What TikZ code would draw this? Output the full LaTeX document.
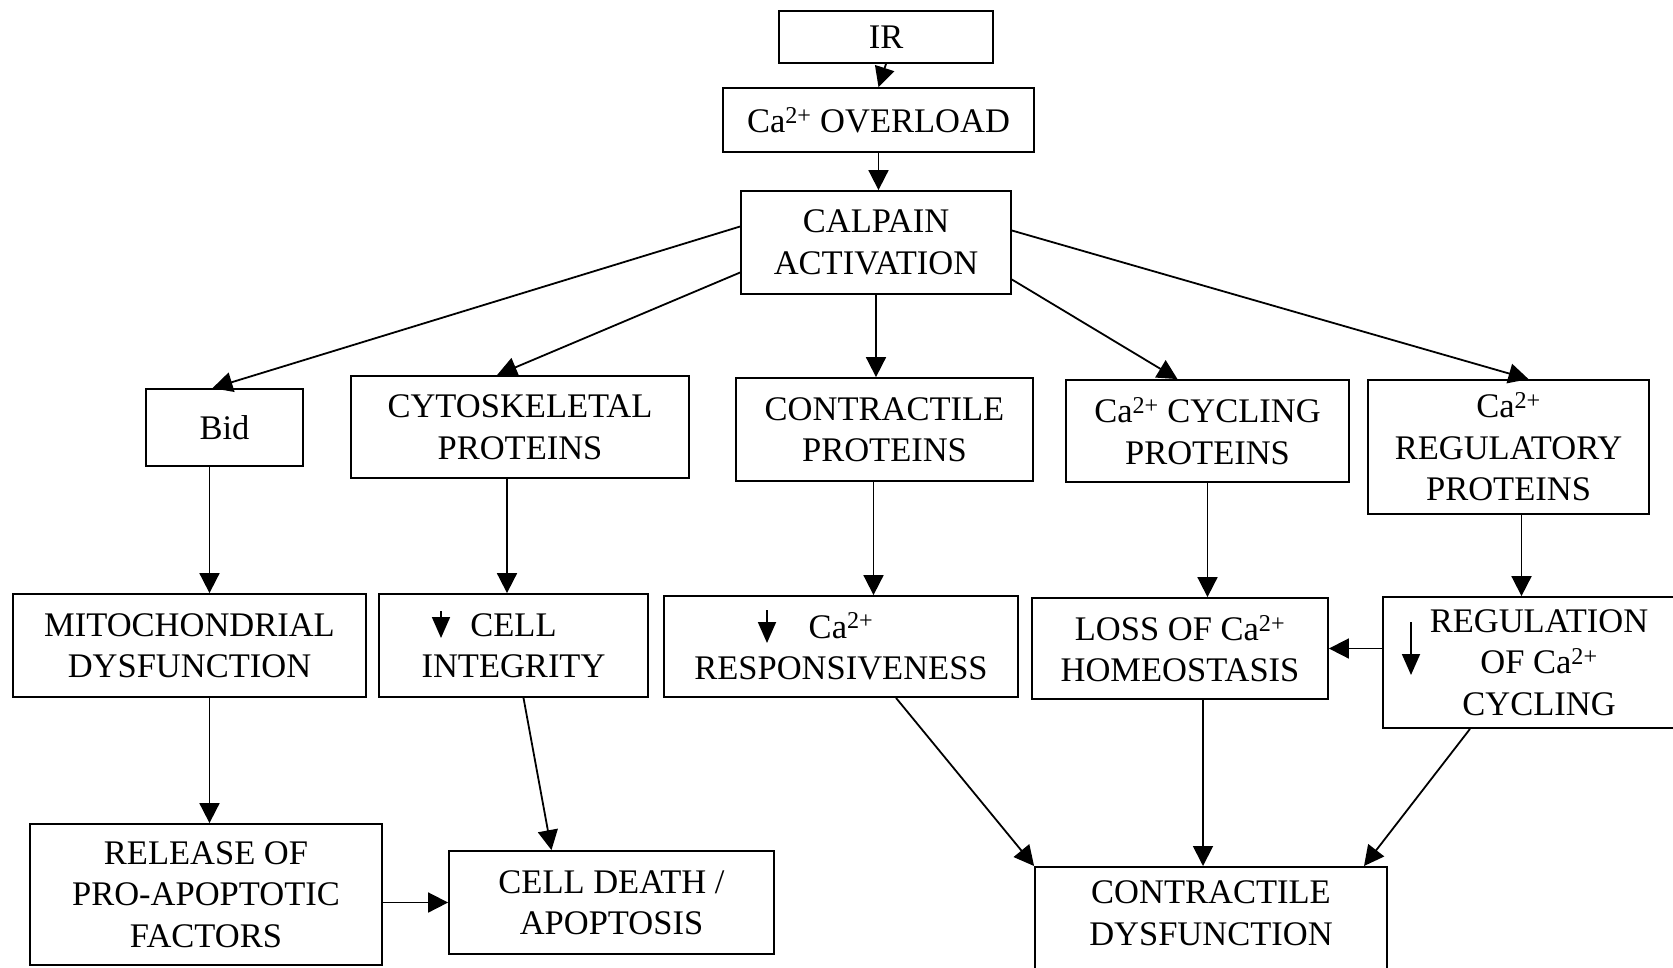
\documentclass[tikz,border=0pt]{standalone}
\usepackage{fontspec}
\setmainfont{Liberation Serif}
\usetikzlibrary{arrows.meta}

\begin{document}
\begin{tikzpicture}[x=1pt, y=-1pt,
    box/.style={draw, line width=1.8pt, align=center, inner sep=0pt,
        font=\fontsize{34.5}{41.5}\selectfont},
    arr/.style={line width=1.8pt, -{Triangle[length=20pt, width=20pt]}},
    dn/.style={line width=1.8pt, -{Triangle[length=21pt, width=18pt]}}]
    \useasboundingbox (0,0) rectangle (1673,967);

    \node[box, minimum width=214pt, minimum height=52pt] (ir) at (886,37) {IR};
    \node[box, minimum width=311pt, minimum height=64pt] (ovl) at (878.5,120) {Ca\textsuperscript{2+} OVERLOAD};
    \node[box, minimum width=270pt, minimum height=103pt] (calp) at (876,242.5) {CALPAIN\\ACTIVATION};

    \node[box, minimum width=157pt, minimum height=77pt] (bid) at (224.5,427.5) {Bid};
    \node[box, minimum width=338pt, minimum height=102pt] (cyto) at (520,427) {CYTOSKELETAL\\PROTEINS};
    \node[box, minimum width=297pt, minimum height=103pt] (contr) at (884.5,429.5) {CONTRACTILE\\PROTEINS};
    \node[box, minimum width=283pt, minimum height=102pt] (cycl) at (1207.5,431) {Ca\textsuperscript{2+} CYCLING\\PROTEINS};
    \node[box, minimum width=281pt, minimum height=134pt] (regp) at (1508.5,447) {Ca\textsuperscript{2+}\\REGULATORY\\PROTEINS};

    \node[box, minimum width=353pt, minimum height=103pt] (mito) at (189.5,645.5) {MITOCHONDRIAL\\DYSFUNCTION};
    \node[box, minimum width=269pt, minimum height=103pt] (integ) at (513.5,645.5) {CELL\\INTEGRITY};
    \node[box, minimum width=354pt, minimum height=101pt] (resp) at (841,646.5) {Ca\textsuperscript{2+}\\RESPONSIVENESS};
    \node[box, minimum width=296pt, minimum height=101pt] (loss) at (1180,648.5) {LOSS OF Ca\textsuperscript{2+}\\HOMEOSTASIS};
    \node[box, minimum width=312pt, minimum height=131pt] (regc) at (1539,662.5) {REGULATION\\OF Ca\textsuperscript{2+}\\CYCLING};

    \node[box, minimum width=352pt, minimum height=141pt] (rel) at (206,894.5) {RELEASE OF\\PRO-APOPTOTIC\\FACTORS};
    \node[box, minimum width=325pt, minimum height=103pt] (death) at (611.5,902.5) {CELL DEATH /\\APOPTOSIS};
    \node[box, minimum width=352pt, inner ysep=14pt, text depth=90pt, anchor=north] (cd) at (1211,866) {CONTRACTILE\\DYSFUNCTION};

    % top chain
    \draw[arr] (ir.south) -- (ovl.north);
    \draw[arr] (ovl.south) -- (ovl.south|-calp.north);

    % calpain targets
    \draw[arr] ([yshift=16pt]calp.west) -- ([xshift=-12pt]bid.north);
    \draw[arr] ([yshift=-30pt]calp.west) -- ([xshift=-23pt]cyto.north);
    \draw[arr] (calp.south) -- (calp.south|-contr.north);
    \draw[arr] ([yshift=-37pt]calp.east) -- ([xshift=-30pt]cycl.north);
    \draw[arr] ([yshift=12pt]calp.east) -- ([xshift=20pt]regp.north);

    % second row
    \draw[arr] ([xshift=-15pt]bid.south) -- ([xshift=-15pt]bid.south|-mito.north);
    \draw[arr] ([xshift=-13pt]cyto.south) -- ([xshift=-13pt]cyto.south|-integ.north);
    \draw[arr] ([xshift=-11pt]contr.south) -- ([xshift=-11pt]contr.south|-resp.north);
    \draw[arr] (cycl.south) -- (cycl.south|-loss.north);
    \draw[arr] ([xshift=13pt]regp.south) -- ([xshift=13pt]regp.south|-regc.north);
    \draw[arr] (regc.west|-loss.east) -- (loss.east);

    % third row
    \draw[arr] ([xshift=20pt]mito.south) -- ([xshift=20pt]mito.south|-rel.north);
    \draw[arr] ([xshift=10pt]integ.south) -- ([xshift=-60pt]death.north);
    \draw[arr] (rel.east|-death.west) -- (death.west);
    \draw[arr] ([xshift=55pt]resp.south) -- (cd.north west);
    \draw[arr] ([xshift=23pt]loss.south) -- ([xshift=23pt]loss.south|-cd.north);
    \draw[arr] ([xshift=-69pt]regc.south) -- ([xshift=153pt]cd.north);

    % decrease marks
    \draw[dn] (441,611) -- (441,638);
    \draw[dn] (767,610) -- (767,643);
    \draw[dn] (1411,622) -- (1411,675);
\end{tikzpicture}
\end{document}
